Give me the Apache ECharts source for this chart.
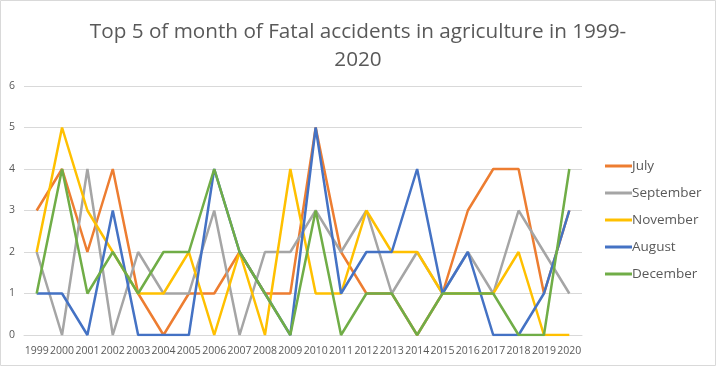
<!DOCTYPE html>
<html><head><meta charset="utf-8">
<script src="https://cdn.jsdelivr.net/npm/echarts@6/dist/echarts.min.js"></script>
<style>html,body{margin:0;padding:0;background:#fff}#c{width:716px;height:366px}</style>
</head><body><div id="c"></div>
<script>
const years = ['1999','2000','2001','2002','2003','2004','2005','2006','2007','2008','2009','2010','2011','2012','2013','2014','2015','2016','2017','2018','2019','2020'];
const july      = [3,4,2,4,1,0,1,1,2,1,1,5,2,1,1,0,1,3,4,4,1,3];
const september = [2,0,4,0,2,1,1,3,0,2,2,3,2,3,1,2,1,2,1,3,2,1];
const november  = [2,5,3,2,1,1,2,0,2,0,4,1,1,3,2,2,1,1,1,2,0,0];
const august    = [1,1,0,3,0,0,0,4,2,1,0,5,1,2,2,4,1,2,0,0,1,3];
const december  = [1,4,1,2,1,2,2,4,2,1,0,3,0,1,1,0,1,1,1,0,0,4];
const seriesNames = ['July','September','November','August','December'];
const seriesData = [july, september, november, august, december];
const colors = ['#ED7D31','#A5A5A5','#FFC000','#4472C4','#70AD47'];
const font = '"Open Sans", sans-serif';
const chart = echarts.init(document.getElementById('c'));
chart.setOption({
  animation:false,
  color: colors,
  title:{text:'Top 5 of month of Fatal accidents in agriculture in 1999-\n2020', left:'center', top:13,
    textStyle:{fontFamily:font, fontSize:20.7, fontWeight:'normal', color:'#595959', lineHeight:28}},
  graphic:[{type:'rect', shape:{x:0.5,y:0.5,width:715,height:365}, style:{fill:'none', stroke:'#d9d9d9', lineWidth:1}, silent:true}],
  legend:{orient:'vertical', left:600, top:154, itemGap:13, itemWidth:27, itemHeight:3, icon:'rect',
    data:seriesNames, textStyle:{fontFamily:font, fontSize:13.5, color:'#595959', padding:[0,0,0,-5]}},
  grid:{left:24, right:134, top:86, bottom:31},
  xAxis:{type:'category', data:years, boundaryGap:true,
    axisLine:{show:true, lineStyle:{color:'#d9d9d9'}}, axisTick:{show:false},
    axisLabel:{fontFamily:font, fontSize:10.5, color:'#595959', interval:0, margin:11}},
  yAxis:{type:'value', min:0, max:6, interval:1,
    axisLine:{show:false}, axisTick:{show:false},
    splitLine:{lineStyle:{color:'#d9d9d9'}},
    axisLabel:{fontFamily:font, fontSize:10.5, color:'#595959', margin:9}},
  series: seriesNames.map((n,i)=>({name:n, type:'line', data:seriesData[i], symbol:'none',
    lineStyle:{width:2.5, color:colors[i]}, itemStyle:{color:colors[i]}}))
});
</script></body></html>
